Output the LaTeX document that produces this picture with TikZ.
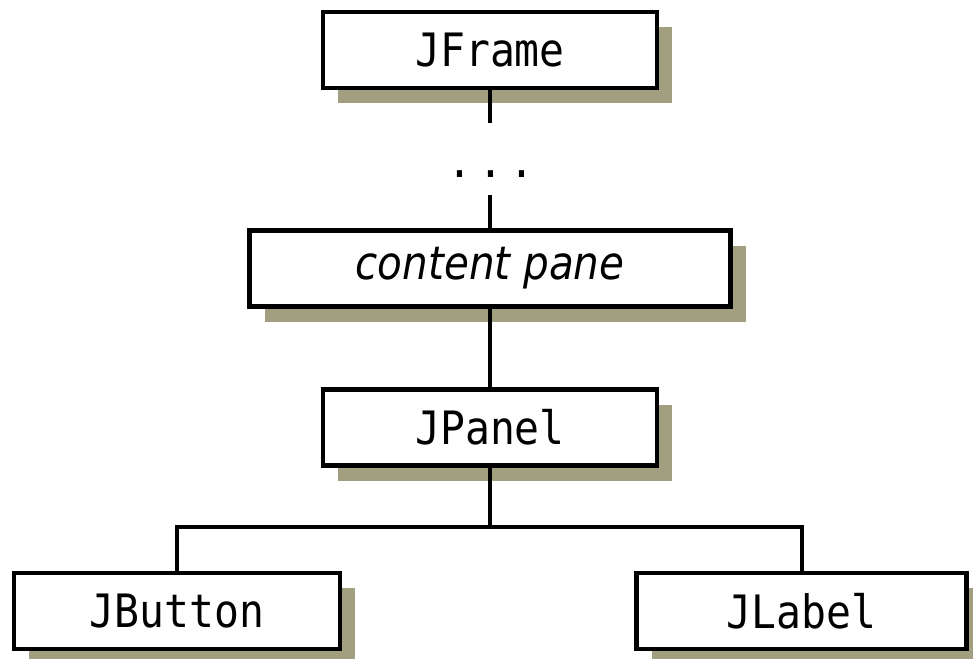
\documentclass[tikz,border=0pt]{standalone}
\usepackage{fontspec}
\newfontfamily\classfont[FakeStretch=0.9]{DejaVu Sans Mono}
\newfontfamily\panefont[FakeStretch=0.88]{DejaVu Sans Oblique}
\usetikzlibrary{shadows}
\definecolor{shadowgray}{RGB}{161,159,128}
\tikzset{classbox/.style={draw,line width=4.5pt,fill=white,inner sep=0pt,
           minimum height=76pt,font=\classfont\fontsize{46}{46}\selectfont,
           drop shadow={shadow xshift=15pt,shadow yshift=-15pt,
                        fill=shadowgray,opacity=1}},
         link/.style={line width=4pt},
         }

\begin{document}
\begin{tikzpicture}[x=1pt,y=-1pt]
\useasboundingbox (0,0) rectangle (973,658);
\node[classbox,minimum width=334pt] (frame) at (490,50) {JFrame};
\node[classbox,minimum width=481pt,font=\panefont\fontsize{46}{46}\selectfont]
    (pane) at (490,268.5) {content pane};
\node[classbox,minimum width=334pt] (panel) at (490,427.5) {JPanel};
\node[classbox,minimum width=326pt] (button) at (177,611) {JButton};
\node[classbox,minimum width=330pt] (label) at (801.5,611) {JLabel};
% the elided levels between frame and pane
\node[font=\classfont\fontsize{46}{46}\selectfont,inner sep=0pt]
    (dots) at (491,174) {.\kern6pt.\kern6pt.};
\coordinate (dotstop) at (490,123);
\coordinate (dotsbot) at (490,195);
\coordinate (fork) at (490,527);
\draw[link] (frame.south) -- (dotstop);
\draw[link] (dotsbot) -- (pane.north);
\draw[link] (pane) -- (panel);
\draw[link] (panel) -- (fork);
\draw[link] (button.north) |- (fork) -| (label.north);
\end{tikzpicture}
\end{document}
